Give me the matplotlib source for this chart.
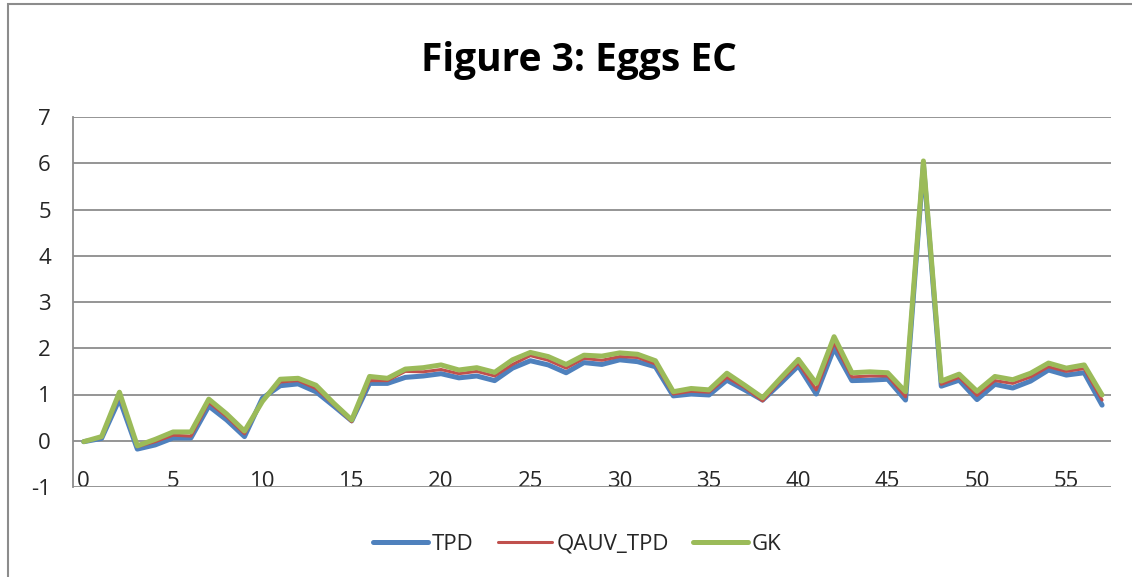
import matplotlib
matplotlib.use("Agg")
import matplotlib.pyplot as plt
from matplotlib.patches import Rectangle

# x positions (sample index) and the three series
idx = list(range(58))

tpd = [-0.02, 0.05, 0.90, -0.18, -0.09, 0.06, 0.06, 0.75, 0.45, 0.09,
       0.92, 1.19, 1.23, 1.06, 0.75, 0.43, 1.24, 1.24, 1.37, 1.40,
       1.45, 1.36, 1.40, 1.30, 1.57, 1.73, 1.64, 1.47, 1.69, 1.65,
       1.75, 1.71, 1.60, 0.97, 1.01, 0.99, 1.31, 1.10, 0.88, 1.24,
       1.62, 1.01, 2.00, 1.30, 1.31, 1.33, 0.88, 5.97, 1.18, 1.31,
       0.89, 1.22, 1.14, 1.29, 1.53, 1.42, 1.47, 0.77]

qauv_tpd = [-0.01, 0.07, 0.98, -0.13, -0.02, 0.12, 0.10, 0.83, 0.52, 0.15,
            0.86, 1.27, 1.30, 1.13, 0.78, 0.41, 1.30, 1.30, 1.50, 1.49,
            1.54, 1.45, 1.50, 1.40, 1.65, 1.84, 1.74, 1.57, 1.78, 1.74,
            1.82, 1.80, 1.66, 1.01, 1.07, 1.05, 1.37, 1.15, 0.86, 1.30,
            1.68, 1.10, 2.12, 1.38, 1.40, 1.40, 0.95, 6.00, 1.22, 1.37,
            0.98, 1.30, 1.24, 1.38, 1.60, 1.50, 1.56, 0.88]

gk = [-0.02, 0.09, 1.05, -0.11, 0.03, 0.19, 0.19, 0.90, 0.58, 0.21,
      0.85, 1.33, 1.35, 1.20, 0.81, 0.45, 1.39, 1.35, 1.55, 1.58,
      1.64, 1.53, 1.58, 1.48, 1.75, 1.91, 1.82, 1.65, 1.85, 1.83,
      1.90, 1.87, 1.73, 1.06, 1.13, 1.10, 1.46, 1.20, 0.93, 1.35,
      1.76, 1.24, 2.25, 1.47, 1.49, 1.47, 1.06, 6.05, 1.29, 1.44,
      1.07, 1.39, 1.32, 1.46, 1.68, 1.57, 1.64, 0.99]

series_names = ["TPD", "QAUV_TPD", "GK"]
x_ticks = list(range(0, 58, 5))
y_ticks = list(range(-1, 8))

FONT = ["Open Sans", "DejaVu Sans"]
plt.rcParams["font.family"] = FONT
GRID = "#8c8c8c"
TXT = "#262626"

fig = plt.figure(figsize=(11.32, 5.77), dpi=100)
ax = fig.add_axes([73 / 1132, 1 - 487 / 577, (1111 - 73) / 1132, (487 - 117) / 577])

ax.plot(idx, tpd, color="#4f81bd", lw=3.6, solid_capstyle="round",
        solid_joinstyle="round", label=series_names[0], zorder=3)
ax.plot(idx, qauv_tpd, color="#c0504d", lw=2.2, solid_capstyle="round",
        solid_joinstyle="round", label=series_names[1], zorder=4)
ax.plot(idx, gk, color="#9bbb59", lw=3.6, solid_capstyle="round",
        solid_joinstyle="round", label=series_names[2], zorder=5)

ax.set_xlim(-0.6, 57.5)
ax.set_ylim(-1, 7)

# horizontal gridlines (the zero line doubles as the category axis)
ax.set_yticks(y_ticks)
ax.set_yticklabels([str(v) for v in y_ticks])
ax.grid(axis="y", color=GRID, lw=1.3)
ax.set_axisbelow(True)

ax.set_xticks(x_ticks)
ax.set_xticklabels([str(v) for v in x_ticks])
ax.spines["bottom"].set_position(("data", 0))
ax.spines["bottom"].set_visible(False)
ax.spines["top"].set_visible(False)
ax.spines["right"].set_visible(False)
ax.spines["left"].set_color(GRID)
ax.spines["left"].set_linewidth(1.3)

ax.tick_params(axis="x", length=0, pad=21.5, labelsize=16, labelcolor=TXT)
ax.tick_params(axis="y", length=0, pad=16, labelsize=16, labelcolor=TXT)

fig.text(0.511, 1 - 60 / 577, "Figure 3: Eggs EC", ha="center", va="center",
         fontsize=28, fontweight="bold", color="black")

fig.legend(loc="center", bbox_to_anchor=(0.51, 1 - 544 / 577), ncol=3,
           frameon=False, fontsize=16, handlelength=2.45, handletextpad=0.18,
           columnspacing=1.1, labelcolor=TXT)

# outer chart frame (only top and left edges fall inside the crop)
fig.patches.append(Rectangle((8 / 1132, -0.2), 1.5, 1.2 - 4 / 577,
                             transform=fig.transFigure, fill=False,
                             edgecolor=GRID, lw=1.5))

fig.savefig("out.png", dpi=100, facecolor="white")
